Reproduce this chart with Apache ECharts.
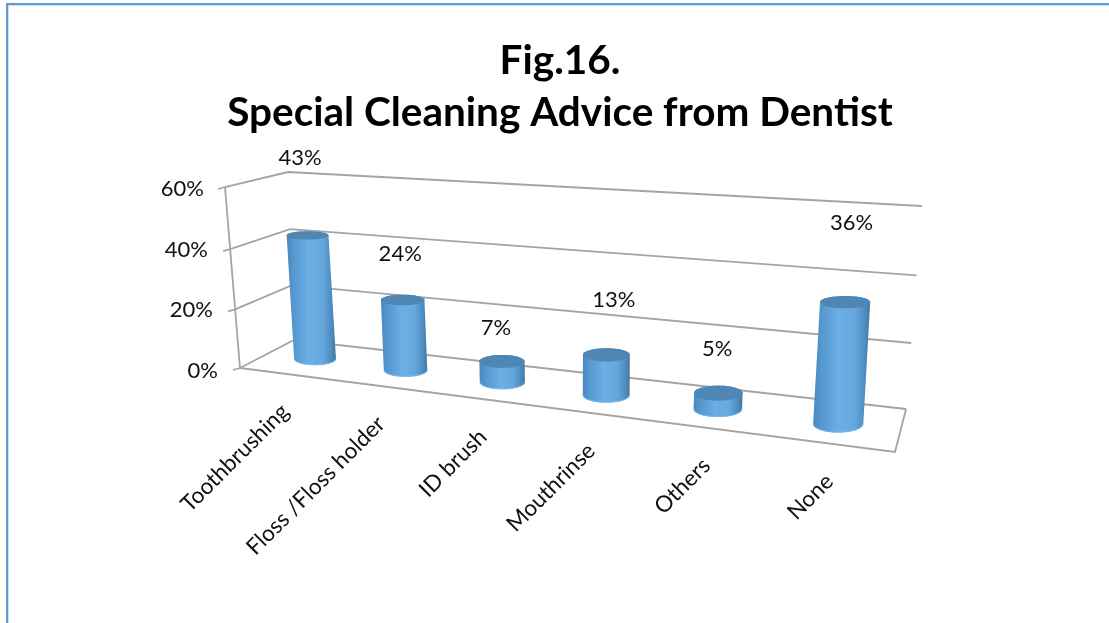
<!DOCTYPE html>
<html>
<head>
<meta charset="utf-8">
<style>html,body{margin:0;padding:0;background:#fff}#c{width:1109px;height:623px}</style>
<script src="https://cdn.jsdelivr.net/npm/echarts@6/dist/echarts.min.js"></script>
</head>
<body>
<div id="c"></div>
<script>
// ---- data ----
const titleLines = ['Fig.16.', 'Special Cleaning Advice from Dentist'];
const categories = ['Toothbrushing', 'Floss /Floss holder', 'ID brush', 'Mouthrinse', 'Others', 'None'];
const values = [43, 24, 7, 13, 5, 36];
const yTicks = [0, 20, 40, 60];

// ---- layout (perspective frame, not data) ----
const GRID = {left: 272, width: 630, top: 189, height: 182};
const QUAD_MID = [[272, 353.7], [902, 432], [917, 221], [260, 182]];
const QUAD_BACK = [[294, 340], [906, 409], [922, 206], [288, 172]];
const QUAD_FRONT = [[240, 368], [895, 452], [913, 237], [225, 187]];
const labelNudge = [[-7.5, -78], [-2.5, -46], [-6, -33], [7.5, -54.5], [-1, -44.5], [6.5, -79]];
const tickPad = {0: 0, 20: 5, 40: 10, 60: 14};
const FONT = 'Lato, Carlito, "Open Sans", sans-serif';
const GRID_COLOR = '#a4a4a4';
const TEXT_COLOR = '#111';

function homography(q) {
  const [[x0, y0], [x1, y1], [x2, y2], [x3, y3]] = q;
  const dx1 = x1 - x2, dx2 = x3 - x2, sx = x0 - x1 + x2 - x3;
  const dy1 = y1 - y2, dy2 = y3 - y2, sy = y0 - y1 + y2 - y3;
  const den = dx1 * dy2 - dx2 * dy1;
  const g = (sx * dy2 - dx2 * sy) / den, h = (dx1 * sy - sx * dy1) / den;
  const a = x1 - x0 + g * x1, b = x3 - x0 + h * x3, d = y1 - y0 + g * y1, e = y3 - y0 + h * y3;
  return (u, v) => {
    const w = g * u + h * v + 1;
    return [(a * u + b * v + x0) / w, (d * u + e * v + y0) / w];
  };
}
const midPlane = homography(QUAD_MID), backPlane = homography(QUAD_BACK), frontPlane = homography(QUAD_FRONT);
const toUV = p => [(p[0] - GRID.left) / GRID.width, (GRID.top + GRID.height - p[1]) / GRID.height];

function line(points, width) {
  return {type: 'polyline', shape: {points}, style: {stroke: GRID_COLOR, lineWidth: width || 1.8, fill: null}, silent: true};
}

function renderFrame(params, api) {
  const t = api.value(1);
  const v = toUV(api.coord([0, t]))[1];
  const f = frontPlane(0, v), b = backPlane(0, v), br = backPlane(1, v);
  const children = [
    line([[f[0] - 7, f[1] + 2], f, b, br])
  ];
  if (t === 0) {
    const top = frontPlane(0, 1), fr = frontPlane(1, 0);
    children.push(line([top, f]));
    children.push(line([f, fr, br]));
  }
  return {type: 'group', children};
}

function ellipse(c, rx, ry, a0, a1, n) {
  const pts = [];
  for (let k = 0; k <= n; k++) {
    const th = a0 + (a1 - a0) * k / n;
    pts.push([c[0] + rx * Math.cos(th), c[1] + ry * Math.sin(th)]);
  }
  return pts;
}

function renderCylinder(params, api) {
  const i = api.value(0), val = api.value(1);
  const [u0, v0] = toUV(api.coord([i, 0]));
  const [u1, v1] = toUV(api.coord([i, val]));
  const B = midPlane(u0, v0), T = midPlane(u1, v1);
  const rx = 20.5 + 5 * u0;
  const ratio = y => 0.245 + 0.0007 * (y - 300);
  const ryT = rx * ratio(T[1]), ryB = rx * ratio(B[1]) * 1.02;
  const body = [].concat(
    ellipse(B, rx, ryB, Math.PI, 0, 24),
    ellipse(T, rx, ryT, 0, -Math.PI, 24)
  );
  const grad = {
    type: 'linear', x: 0, y: 0, x2: 1, y2: 0,
    colorStops: [
      {offset: 0, color: '#4a88bd'}, {offset: 0.12, color: '#5395cd'},
      {offset: 0.45, color: '#6cafe5'}, {offset: 0.72, color: '#66a8de'},
      {offset: 0.9, color: '#4f8dc2'}, {offset: 1, color: '#44789f'}
    ]
  };
  const n = labelNudge[i];
  return {type: 'group', children: [
    {type: 'polygon', shape: {points: body}, style: {fill: grad}},
    {type: 'polyline', shape: {points: ellipse(B, rx - 0.5, ryB - 0.5, Math.PI, 0, 24)}, style: {stroke: '#78b8ec', lineWidth: 1, fill: null}},
    {type: 'polygon', shape: {points: ellipse(T, rx, ryT, 0, Math.PI * 2, 48)}, style: {fill: '#4f86b3'}},
    {type: 'text', style: {text: val + '%', x: T[0] + n[0], y: T[1] + n[1], fill: TEXT_COLOR, font: '22px ' + FONT, align: 'center', verticalAlign: 'middle'}}
  ]};
}

function renderCategory(params, api) {
  const i = api.value(0);
  const u = toUV(api.coord([i, 0]))[0];
  const f = frontPlane(u, 0);
  return {
    type: 'text', x: f[0] - 1, y: f[1] + 34, rotation: Math.PI / 4,
    style: {text: categories[i], fill: TEXT_COLOR, font: '22.5px ' + FONT, align: 'right', verticalAlign: 'middle'}
  };
}

const tickRich = {};
yTicks.forEach(t => { tickRich['t' + t] = {padding: [0, tickPad[t], 0, 0], fontSize: 22, fontFamily: FONT, color: TEXT_COLOR}; });

const chart = echarts.init(document.getElementById('c'), null, {renderer: 'canvas'});
chart.setOption({
  animation: false,
  backgroundColor: '#fff',
  title: {
    text: titleLines.join('\n'), left: 555, top: 30, textAlign: 'center',
    textStyle: {fontFamily: FONT, fontWeight: 'bold', fontSize: 40.5, lineHeight: 52, color: '#000'}
  },
  graphic: [
    {type: 'rect', shape: {x: 6, y: 3, width: 2, height: 620}, style: {fill: '#5b9bd5'}},
    {type: 'rect', shape: {x: 6, y: 3, width: 1103, height: 2}, style: {fill: '#5b9bd5'}},
    {type: 'rect', shape: {x: 8, y: 5, width: 1, height: 618}, style: {fill: '#dcdcdc'}},
    {type: 'rect', shape: {x: 8, y: 5, width: 1101, height: 1}, style: {fill: '#dcdcdc'}}
  ],
  grid: {left: GRID.left, top: GRID.top, width: GRID.width, height: GRID.height},
  xAxis: {type: 'category', data: categories, axisLine: {show: false}, axisTick: {show: false}, axisLabel: {show: false}},
  yAxis: {
    type: 'value', min: 0, max: 60, interval: 20, splitLine: {show: false},
    axisLine: {show: false}, axisTick: {show: false},
    axisLabel: {margin: 54, formatter: v => '{t' + v + '|' + v + '%}', rich: tickRich}
  },
  series: [
    {type: 'custom', name: 'frame', clip: false, silent: true, renderItem: renderFrame, data: yTicks.map(t => [0, t]), z: 1},
    {type: 'custom', name: 'Special cleaning advice', clip: false, renderItem: renderCylinder, data: values.map((v, i) => [i, v]), z: 2},
    {type: 'custom', name: 'categories', clip: false, silent: true, renderItem: renderCategory, data: categories.map((c, i) => [i, 0]), z: 3}
  ]
});
</script>
</body>
</html>
